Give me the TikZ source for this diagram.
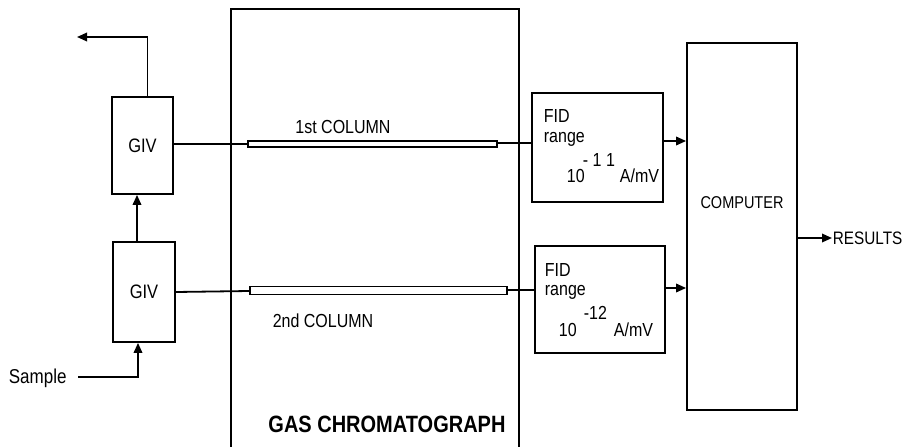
\documentclass[tikz,border=0pt]{standalone}
\usepackage{fontspec}
\setmainfont{Liberation Sans}
\usetikzlibrary{arrows.meta,positioning}
\newcommand\tl[1]{\scalebox{1}[1.18]{#1}}
\begin{document}
\begin{tikzpicture}[x=1pt,y=-1pt,
  line width=1.8pt,
  txt/.style={inner sep=0pt,font=\fontsize{16}{19}\selectfont},
  boxn/.style={draw,inner sep=0pt,font=\fontsize{16.5}{19}\selectfont},
  coln/.style={draw,inner sep=0pt,line width=1.4pt},
  arr/.style={-{Triangle[length=10pt,width=8.5pt]}}]
\useasboundingbox (0,0) rectangle (905,447);
% gas chromatograph (open at bottom)
\node (gc) [minimum width=286pt,minimum height=437pt,inner sep=0pt] at (375,228.5) {};
\draw (gc.south west) -- (gc.north west) -- (gc.north east) -- (gc.south east);
\node (gcl) [txt,font=\fontsize{20}{23}\selectfont\bfseries] at (387,424) {\tl{GAS CHROMATOGRAPH}};
% GIV boxes
\node (giv1) [boxn,minimum width=61pt,minimum height=97pt] at (142.5,145.5) {\tl{GIV}};
\node (giv2) [boxn,minimum width=62pt,minimum height=100pt] at (144,292) {\tl{GIV}};
% columns
\node (col1) [coln,minimum width=249pt,minimum height=6pt] at (372.5,144) {};
\node (col2) [coln,minimum width=257pt,minimum height=8pt] at (378.5,290.5) {};
\node (c1l) [txt] at (343,127) {\tl{1st COLUMN}};
\node (c2l) [txt] at (323,321) {\tl{2nd COLUMN}};
% FID boxes
\node (fid1) [draw,minimum width=131pt,minimum height=109pt,inner sep=0pt] at (597.5,147.5) {};
\node (fid2) [draw,minimum width=130pt,minimum height=107pt,inner sep=0pt] at (600,299.5) {};
\node (f1a) [txt,anchor=west] at (543,116) {\tl{FID}};
\node (f1b) [txt,anchor=west] at (543,139) {\tl{range}};
\node (f1c) [txt,anchor=west] at (582,160) {\tl{- 1 1}};
\node (f1d) [txt,anchor=west] at (566,176) {\tl{10}};
\node (f1e) [txt,anchor=west] at (619,176) {\tl{A/mV}};
\node (f2a) [txt,anchor=west] at (544,270) {\tl{FID}};
\node (f2b) [txt,anchor=west] at (544,292) {\tl{range}};
\node (f2c) [txt,anchor=west] at (583,313) {\tl{-12}};
\node (f2d) [txt,anchor=west] at (558,330) {\tl{10}};
\node (f2e) [txt,anchor=west] at (613,330) {\tl{A/mV}};
% computer
\node (comp) [draw,minimum width=110pt,minimum height=367pt,inner sep=0pt] at (742,226.5) {};
\node (compl) [txt,font=\fontsize{14.5}{17}\selectfont] at (742,203) {\tl{COMPUTER}};
\node (res) [txt,anchor=west,font=\fontsize{15.3}{18}\selectfont] at (832,238) {\tl{RESULTS}};
\node (samp) [txt,anchor=west,font=\fontsize{17}{20}\selectfont] at (8,378) {\tl{Sample}};
\coordinate (out) at (77,37);
\coordinate (sin) at (78,377);
% connectors
\draw[arr] (giv1.north) ++(5,0) |- (out);
\draw[arr] (giv2.north -| 137,0) -- (giv1.south -| 137,0);
\draw[arr] (sin) -| (giv2.south -| 138,0);
\draw (giv1.east |- 0,144) -- (col1.west |- 0,144);
\draw (col1.east |- 0,143) -- (fid1.west |- 0,143);
\draw (giv2.east |- 0,292) -- (col2.west |- 0,291);
\draw (col2.east |- 0,290) -- (fid2.west |- 0,290);
\draw[arr] (fid1.east |- 0,141) -- (comp.west |- 0,141);
\draw[arr] (fid2.east |- 0,288) -- (comp.west |- 0,288);
\draw[arr] (comp.east |- 0,238) -- (res.west);
\end{tikzpicture}
\end{document}
